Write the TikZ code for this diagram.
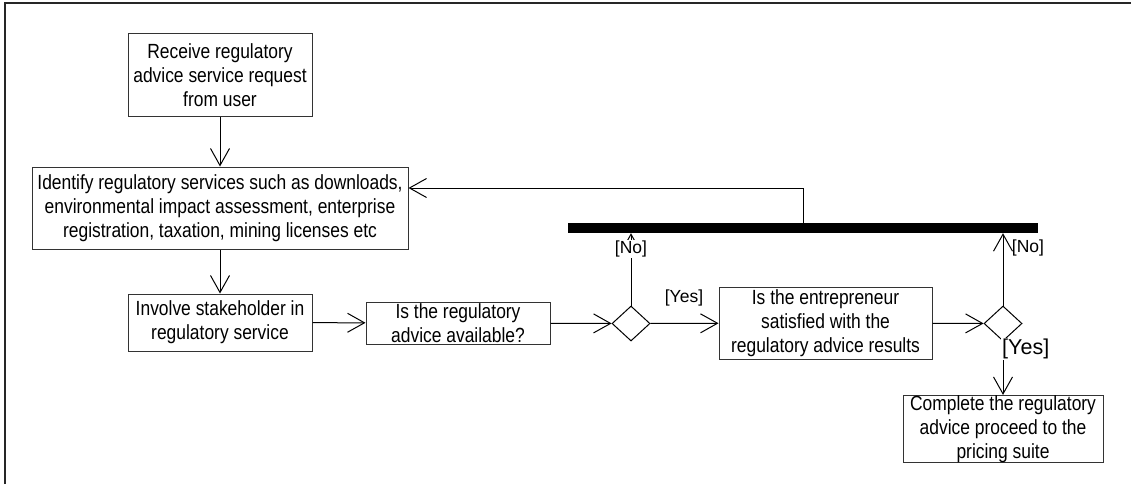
\documentclass[tikz,border=0pt]{standalone}
\usepackage{fontspec}
\setmainfont{Liberation Sans}
\newfontfamily\boxfont[FakeStretch=0.85]{Liberation Sans}
\usetikzlibrary{arrows.meta,shapes.geometric}

\tikzset{
  actbox/.style={draw=black!80, line width=1pt, rectangle, inner sep=0pt, align=center,
                 font=\boxfont\fontsize{20.5}{24}\selectfont},
  choice/.style={draw=black, line width=1pt, diamond, inner sep=0pt, aspect=1},
  flow/.style={draw=black, line width=1pt, -{Straight Barb[length=17pt, width=19pt, line width=1pt]}},
  guard/.style={font=\fontsize{17.5}{20}\selectfont, inner sep=1pt},
  bigguard/.style={font=\fontsize{21.5}{24}\selectfont, inner sep=1pt},
}

\begin{document}
\begin{tikzpicture}[x=1pt, y=-1pt]
  \useasboundingbox (0,0) rectangle (1131,484);

  % frame
  \draw[line width=2pt, black!85] (4.5,484) -- (4.5,3.5) -- (1131,3.5);

  % activities
  \node[actbox, minimum width=184pt, minimum height=83pt] (recv) at (220,75.5)
    {Receive regulatory\\advice service request\\from user};
  \node[actbox, minimum width=376pt, minimum height=82pt] (ident) at (220,208)
    {Identify regulatory services such as downloads,\\environmental impact assessment, enterprise\\registration, taxation, mining licenses etc};
  \node[actbox, minimum width=184pt, minimum height=57pt] (involve) at (220,322.5)
    {Involve stakeholder in\\regulatory service};
  \node[actbox, minimum width=184pt, minimum height=42pt] (avail) at (458,323)
    {Is the regulatory\\advice available?};
  \node[choice, minimum width=38pt, minimum height=35pt] (d1) at (631,323.5) {};
  \node[actbox, minimum width=213pt, minimum height=72pt] (satis) at (825.5,323)
    {Is the entrepreneur\\satisfied with the\\regulatory advice results};
  \node[choice, minimum width=38pt, minimum height=35pt] (d2) at (1003,323.5) {};
  \node[actbox, minimum width=200pt, minimum height=64pt] (done) at (1003,429)
    {Complete the regulatory\\advice proceed to the\\pricing suite};

  % synchronisation bar
  \node[fill=black, inner sep=0pt, minimum width=470pt, minimum height=10pt] (bar) at (803,228) {};

  % main flow
  \draw[flow] (recv) -- (ident);
  \draw[flow] (ident) -- (involve);
  \draw[flow] (involve) -- (avail);
  \draw[flow] (avail) -- (d1);
  \draw[flow] (d1) -- (satis);
  \draw[flow] (satis) -- (d2);

  % guards
  \node[guard] (y1) at (684,298) {[Yes]};
  \draw[flow] (d1.north) -- (bar.south -| d1.north);
  \node[guard, fill=white] (n1) at (631,249) {[No]};
  \draw[flow] (d2.north) -- (bar.south -| d2.north);
  \node[guard] (n2) at (1028,248) {[No]};
  \draw[flow] (d2.south) -- (done.north);
  \node[bigguard, fill=white, anchor=west] (y2) at (1001,349) {[Yes]};

  % loop back to service identification
  \coordinate (fb) at (803,188);
  \draw[flow] (bar.north -| fb) -- (fb) -- (fb -| ident.east);
\end{tikzpicture}
\end{document}
